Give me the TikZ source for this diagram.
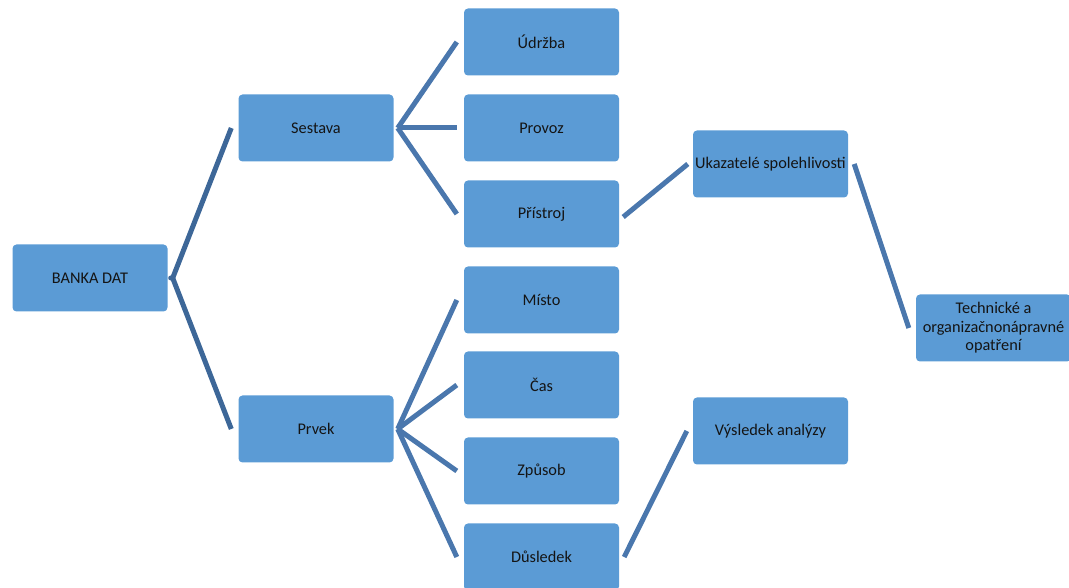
\documentclass[tikz,border=0pt]{standalone}
\usepackage{fontspec}
\setmainfont{Carlito}
\usetikzlibrary{calc}
\definecolor{boxblue}{HTML}{5B9BD5}
\definecolor{rootline}{HTML}{3D6798}
\definecolor{linkline}{HTML}{4A77AD}
\definecolor{txt}{HTML}{141414}
\tikzset{
  item/.style={fill=boxblue, rounded corners=4pt, minimum width=155pt, minimum height=67pt,
    inner sep=2pt, align=center, text=txt, font=\fontsize{16.3}{18.5}\selectfont},
  link/.style={draw=linkline, line width=5pt},
  rootlink/.style={draw=rootline, line width=5pt}
}
\begin{document}
\begin{tikzpicture}[x=1pt, y=1pt]
  \useasboundingbox (0,0) rectangle (1069,588);
  \clip (0,0) rectangle (1069,588);

  % boxes (y measured upward from the bottom edge)
  \node[item] (banka)  at (90,310)    {BANKA DAT};
  \node[item] (sestava) at (316,460)  {Sestava};
  \node[item] (prvek)  at (316,159)   {Prvek};
  \node[item] (udrzba) at (541.5,546) {Údržba};
  \node[item] (provoz) at (541.5,460) {Provoz};
  \node[item] (pristroj) at (541.5,374) {Přístroj};
  \node[item] (misto)  at (541.5,288) {Místo};
  \node[item] (cas)    at (541.5,203) {Čas};
  \node[item] (zpusob) at (541.5,117) {Způsob};
  \node[item] (dusledek) at (541.5,31) {Důsledek};
  \node[item] (ukaz)   at (770.5,424) {Ukazatelé spolehlivosti};
  \node[item] (vysl)   at (770.5,157) {Výsledek analýzy};
  \node[item] (tech)   at (993.5,260) {Technické a\\organizačnonápravné\\opatření};

  % connectors from the root
  \draw[rootlink] ($(banka.east)+(5,0)$) -- ($(sestava.west)+(-7,0)$);
  \draw[rootlink] ($(banka.east)+(5,0)$) -- ($(prvek.west)+(-7,0)$);
  \fill[rootline] ($(banka.east)+(3,0)$) circle (2.5pt);

  % connectors from Sestava
  \foreach \c in {udrzba, provoz, pristroj}
    \draw[link] ($(sestava.east)+(4,0)$) -- ($(\c.west)+(-7,0)$);
  % connectors from Prvek
  \foreach \c in {misto, cas, zpusob, dusledek}
    \draw[link] ($(prvek.east)+(4,0)$) -- ($(\c.west)+(-7,0)$);

  % remaining links
  \draw[link] ($(pristroj.east)+(4,-3)$) -- ($(ukaz.west)+(-5,0)$);
  \draw[link] ($(ukaz.east)+(6,0)$) -- ($(tech.west)+(-7,0)$);
  \draw[link] ($(dusledek.east)+(5,0)$) -- ($(vysl.west)+(-6,0)$);
\end{tikzpicture}
\end{document}
